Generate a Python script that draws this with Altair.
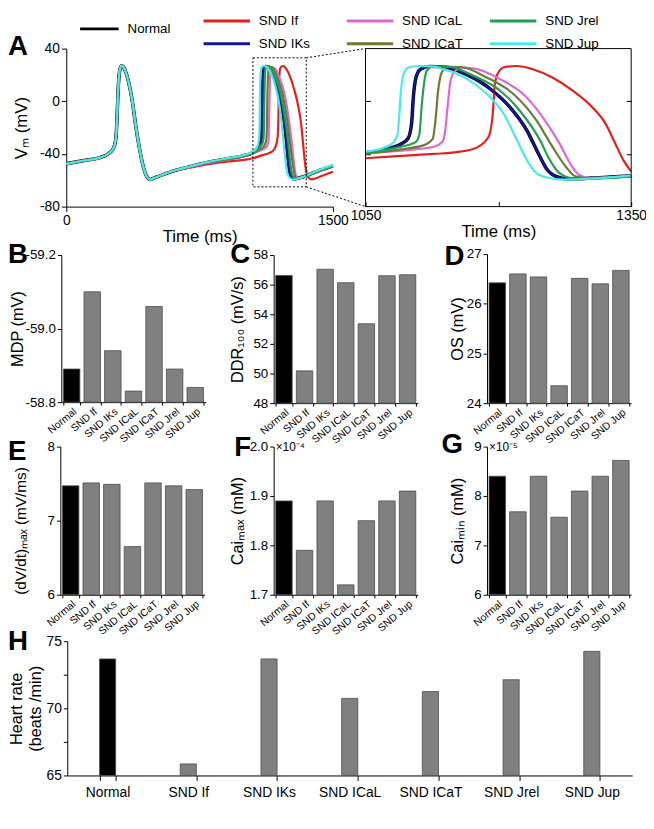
import altair as alt
import pandas as pd

FONT = "Liberation Sans"

# ---------------- Panel A: membrane potential traces ----------------
# first beat (0-600 ms): all traces overlap
beat1_t = [0, 100, 185, 240, 265, 278, 285, 290, 296, 303, 311, 322, 335, 350, 361, 375,
           389, 403, 417, 430, 444, 458, 472, 490, 520, 600]
beat1_v = [-47.5, -45, -43, -39.5, -35.8, -29.5, -14.5, 3, 18, 25, 27, 26, 22, 15, 8, -3,
           -17, -29, -39.5, -48, -54.5, -58, -59.5, -58.5, -57, -53]

# second beat (700-1500 ms), one list per trace
normal_t = [700, 800, 900, 1000, 1050, 1072, 1090, 1098, 1102, 1104, 1107, 1112, 1122, 1139,
            1165, 1191, 1213, 1232, 1245, 1254, 1265, 1280, 1314, 1350, 1425, 1500]
normal_v = [-49.5, -46.3, -43.8, -41.3, -39, -36.5, -32.5, -28.3, -17, 3, 18, 24.3, 26.5, 26,
            20, 9.3, -4.5, -22, -39.5, -50.8, -57, -59, -58, -56.5, -52.5, -49]
if_t = [700, 800, 900, 1000, 1050, 1090, 1127, 1157, 1176, 1189, 1194, 1196, 1200, 1207, 1221,
        1239, 1261, 1284, 1306, 1321, 1332, 1341, 1350, 1365, 1380, 1440, 1500]
if_v = [-50.3, -47.8, -45.8, -44.5, -43.3, -41.5, -40, -38.3, -35, -27, -7, 13, 21.8, 26, 26.8,
        24.3, 18, 8, -4.5, -17, -32, -44.5, -53.3, -58.3, -59.3, -56.5, -53.5]
iks_t = normal_t
iks_v = normal_v
ical_t = [700, 800, 900, 1000, 1050, 1090, 1127, 1137, 1140, 1143, 1146, 1151, 1159, 1172, 1202,
          1228, 1250, 1269, 1282, 1291, 1302, 1350, 1425, 1500]
ical_v = [-49.8, -46.8, -44.3, -41.8, -39.5, -37.5, -34.5, -30.8, -22, -2, 15.5, 23, 25.5, 25,
          16.8, 5.5, -12, -32, -48.3, -55.8, -58.3, -57, -52.8, -49.5]
icat_t = [700, 800, 900, 1000, 1050, 1090, 1116, 1126, 1129, 1132, 1136, 1142, 1157, 1187, 1217,
          1243, 1261, 1276, 1287, 1299, 1350, 1425, 1500]
icat_v = [-49.5, -46.5, -44, -41.6, -39.5, -36.5, -33.3, -28.3, -14.5, 8, 21.8, 26, 26, 18, 5.5,
          -14.5, -34.5, -49.5, -57, -58.3, -57, -52.8, -49.3]
jrel_t = [700, 800, 900, 1000, 1050, 1090, 1107, 1111, 1113, 1116, 1119, 1127, 1142, 1172, 1202,
          1224, 1247, 1258, 1269, 1284, 1314, 1350, 1425, 1500]
jrel_v = [-49.5, -46.3, -43.8, -41.3, -39, -34.5, -30.8, -24.5, -7, 13, 23, 26.5, 26.5, 19.3, 8,
          -7, -29.5, -44.5, -54.5, -58.3, -58.5, -57, -52.5, -49]
jup_t = [700, 800, 900, 1000, 1050, 1072, 1081, 1086, 1088, 1090, 1093, 1098, 1109, 1124, 1142,
         1165, 1187, 1206, 1221, 1232, 1243, 1258, 1276, 1314, 1350, 1425, 1500]
jup_v = [-49.3, -46, -43.4, -40.8, -38.3, -35, -31.5, -25.8, -12, 8, 20.5, 25.5, 26.8, 26.5, 23.5,
         16.8, 5.5, -9.5, -29.5, -44.5, -54.5, -58.3, -59.5, -58.3, -56.3, -52, -48.3]

trace_names = ["Normal", "SND If", "SND IKs", "SND ICaL", "SND ICaT", "SND Jrel", "SND Jup"]
trace_t = [normal_t, if_t, iks_t, ical_t, icat_t, jrel_t, jup_t]
trace_v = [normal_v, if_v, iks_v, ical_v, icat_v, jrel_v, jup_v]
trace_colors = ["#000000", "#e3201c", "#1515a0", "#e066d8", "#6c7a34", "#22a04e", "#4ae8ec"]

# zoom window and dashed box around it
zoom_t = [1050, 1350]
box_v = [-65, 33]

# ---------------- Bar panels ----------------
categories = ["Normal", "SND If", "SND IKs", "SND ICaL", "SND ICaT", "SND Jrel", "SND Jup"]
mdp = [-58.89, -59.10, -58.94, -58.83, -59.06, -58.89, -58.84]
ddr100 = [56.62, 50.18, 57.04, 56.13, 53.36, 56.60, 56.67]
os_vals = [26.42, 26.60, 26.54, 24.35, 26.51, 26.40, 26.67]
dvdt = [7.47, 7.51, 7.49, 6.65, 7.51, 7.47, 7.42]
caimax = [1.89, 1.79, 1.89, 1.72, 1.85, 1.89, 1.91]
caimin = [8.4, 7.68, 8.4, 7.57, 8.1, 8.4, 8.72]
heart_rate = [73.68, 65.86, 73.68, 70.74, 71.25, 72.13, 74.24]

# ---------------- layout (chart pixels; one shared view) ----------------
W, HV = 646, 813
P_AL = (59, 329, 36, 196)      # left, right, top, bottom
P_AR = (362, 631, 36, 196)
P_B = (54, 200, 245, 394)
P_C = (269, 415, 245, 395)
P_D = (485, 631, 244, 395)
P_E = (53, 199, 439, 589)
P_F = (269, 415, 439, 589)
P_G = (485, 631, 439, 589)
P_H = (60, 632, 636, 772)
BAR_GRAY = "#808080"

AX = dict(labelFont=FONT, titleFont=FONT, labelColor="black", titleColor="black",
          domainColor="black", tickColor="black", grid=False, titleFontWeight="normal",
          labelOverlap=False, labelFlush=False, domainWidth=1, tickWidth=1)


def axis(**kw):
    d = dict(AX)
    d.update(kw)
    return alt.Axis(**d)


NEG_INT = "datum.value < 0 ? '-' + format(-datum.value, 'd') : format(datum.value, 'd')"
NEG_1F = "datum.value < 0 ? '-' + format(-datum.value, '.1f') : format(datum.value, '.1f')"

rows = []
for name, ts, vs in zip(trace_names, trace_t, trace_v):
    for t, v in zip(beat1_t + ts, beat1_v + vs):
        rows.append({"series": name, "t": t, "v": v})
df_lines = pd.DataFrame(rows)
df_normal = df_lines[df_lines.series == "Normal"]
df_snd = df_lines[df_lines.series != "Normal"]
in_zoom = (df_lines.t >= zoom_t[0]) & (df_lines.t <= zoom_t[1])
df_normal_z = df_lines[in_zoom & (df_lines.series == "Normal")]
df_snd_z = df_lines[in_zoom & (df_lines.series != "Normal")]


def cscale():
    return alt.Scale(domain=trace_names, range=trace_colors)


def letter_text(lab, x_enc, y_enc, dx, dy):
    return alt.Chart(pd.DataFrame({"lab": [lab]})).mark_text(
        font=FONT, fontSize=28, fontWeight="bold", align="left", baseline="alphabetic",
        dx=dx, dy=dy, color="black").encode(x=x_enc, y=y_enc, text="lab:N")


units = []

# ---------------- legend (drawn with its own scales) ----------------
snd_names = trace_names[1:]
leg_df = pd.DataFrame({"series": snd_names,
                       "col": [i // 2 for i in range(len(snd_names))],
                       "row": [i % 2 for i in range(len(snd_names))]})
leg_x = alt.Scale(domain=[0, 1], range=[198, 343])
leg_y = alt.Scale(domain=[0, 1], range=[8, 31])
SYM = 47
units.append(alt.Chart(leg_df).mark_point(shape="stroke", size=SYM * SYM, strokeWidth=3, filled=False,
                                          opacity=1, xOffset=SYM / 2).encode(
    x=alt.X("col:Q", scale=leg_x, axis=None), y=alt.Y("row:Q", scale=leg_y, axis=None),
    color=alt.Color("series:N", scale=cscale(), legend=None)))
units.append(alt.Chart(leg_df).mark_text(font=FONT, fontSize=13.5, align="left", baseline="middle",
                                         dx=SYM + 9, color="black").encode(
    x=alt.X("col:Q", scale=leg_x, axis=None), y=alt.Y("row:Q", scale=leg_y, axis=None), text="series:N"))
norm_df = pd.DataFrame({"series": ["Normal"]})
units.append(alt.Chart(norm_df).mark_point(shape="stroke", size=39 * 39, strokeWidth=3, filled=False,
                                           opacity=1, xOffset=-105.5).encode(
    x=alt.X(datum=0, type="quantitative", scale=leg_x, axis=None),
    y=alt.Y(datum=0.35, type="quantitative", scale=leg_y, axis=None),
    color=alt.Color("series:N", scale=cscale(), legend=None)))
units.append(alt.Chart(norm_df).mark_text(font=FONT, fontSize=13.5, align="left", baseline="middle",
                                          dx=-77, color="black").encode(
    x=alt.X(datum=0, type="quantitative", scale=leg_x, axis=None),
    y=alt.Y(datum=0.35, type="quantitative", scale=leg_y, axis=None), text="series:N"))

# ---------------- A left ----------------
x0, x1, y0, y1 = P_AL
xs = alt.Scale(domain=[0, 1500], range=[x0, x1], nice=False, zero=False)
ys = alt.Scale(domain=[-80, 40], range=[y1, y0], nice=False, zero=False)
ax_x = axis(orient="bottom", offset=y1 - HV, values=[0, 1500], title="Time (ms)", labelFontSize=14,
            titleFontSize=17, tickSize=5, titlePadding=1, labelPadding=2, format="d")
ax_y = axis(orient="left", offset=-x0, values=[40, 0, -40, -80], title="Vₘ (mV)", labelFontSize=14,
            titleFontSize=17, tickSize=5, titlePadding=9, labelExpr=NEG_INT)
units.append(alt.Chart(df_normal).mark_line(strokeWidth=3.5, interpolate="monotone").encode(
    x=alt.X("t:Q", scale=xs, axis=ax_x), y=alt.Y("v:Q", scale=ys, axis=ax_y),
    color=alt.Color("series:N", scale=cscale(), legend=None)))
units.append(alt.Chart(df_snd).mark_line(strokeWidth=2.2, interpolate="monotone").encode(
    x=alt.X("t:Q", scale=xs, axis=None), y=alt.Y("v:Q", scale=ys, axis=None),
    color=alt.Color("series:N", scale=cscale(), legend=None)))
box_df = pd.DataFrame({"t1": [zoom_t[0]], "t2": [zoom_t[1]], "v1": [box_v[0]], "v2": [box_v[1]]})
units.append(alt.Chart(box_df).mark_rect(fill=None, stroke="black", strokeWidth=1, strokeDash=[2, 2]).encode(
    x=alt.X("t1:Q", scale=xs, axis=None), x2="t2", y=alt.Y("v1:Q", scale=ys, axis=None), y2="v2"))
t_edge = 1500 + (P_AR[0] - x1) * 1500.0 / (x1 - x0)
conn_df = pd.DataFrame({"t1": [zoom_t[1], zoom_t[1]], "v1": [box_v[1], box_v[0]],
                        "t2": [t_edge, t_edge], "v2": [40, -80]})
units.append(alt.Chart(conn_df).mark_rule(stroke="black", strokeWidth=1, strokeDash=[2, 2]).encode(
    x=alt.X("t1:Q", scale=xs, axis=None), x2="t2", y=alt.Y("v1:Q", scale=ys, axis=None), y2="v2"))
units.append(letter_text("A", alt.X(datum=0, type="quantitative", scale=xs, axis=None),
                         alt.Y(datum=40, type="quantitative", scale=ys, axis=None), 0 - x0, 42 - y0))

# ---------------- A right (zoom) ----------------
x0, x1, y0, y1 = P_AR
xz = alt.Scale(domain=zoom_t, range=[x0, x1], nice=False, zero=False)
yz = alt.Scale(domain=[-80, 40], range=[y1, y0], nice=False, zero=False)
az_x = axis(orient="bottom", offset=y1 - 5 - HV, values=[1050, 1200, 1350], title="Time (ms)",
            labelFontSize=14, titleFontSize=17, tickSize=5, titlePadding=1, labelPadding=2,
            domain=False, labelExpr="datum.value == 1200 ? '' : format(datum.value, 'd')")
az_y = axis(orient="left", offset=-(x0 + 5), values=[0, -40], labels=False, title=None, tickSize=5,
            domain=False)
az_y2 = axis(orient="right", offset=(x1 - 5) - W, values=[0, -40], labels=False, title=None,
             tickSize=5, domain=False)
units.append(alt.Chart(df_normal_z).mark_line(strokeWidth=3.5, interpolate="monotone").encode(
    x=alt.X("t:Q", scale=xz, axis=az_x), y=alt.Y("v:Q", scale=yz, axis=az_y),
    color=alt.Color("series:N", scale=cscale(), legend=None)))
units.append(alt.Chart(df_snd_z).mark_line(strokeWidth=2.2, interpolate="monotone").encode(
    x=alt.X("t:Q", scale=xz, axis=None), y=alt.Y("v:Q", scale=yz, axis=None),
    color=alt.Color("series:N", scale=cscale(), legend=None)))
frame_df = pd.DataFrame({"t1": [zoom_t[0]], "t2": [zoom_t[1]], "v1": [-80], "v2": [40]})
units.append(alt.Chart(frame_df).mark_rect(fill=None, stroke="black", strokeWidth=1).encode(
    x=alt.X("t1:Q", scale=xz, axis=None), x2="t2", y=alt.Y("v1:Q", scale=yz, axis=az_y2), y2="v2"))


# ---------------- bar panels ----------------
def bar_panel(values, box, lab, ytitle, domain, ticks, tpad, letter_xy, label_expr,
              note=None, big=False, title_size=16.5, title_shift=0):
    bx0, bx1, by0, by1 = box
    n = len(categories)
    pin, pout = (0.8, 0.4) if big else (0.2, 0.1)
    step = (bx1 - bx0) / (n - pin + 2 * pout)
    c0 = bx0 + pout * step + (1 - pin) * step / 2
    sx = alt.Scale(domain=categories, range=[bx0, bx1], paddingInner=pin, paddingOuter=pout)
    sy = alt.Scale(domain=domain, range=[by1, by0], zero=False, nice=False)
    if big:
        xax = axis(orient="bottom", offset=by1 - HV, title=None, labelAngle=0, labelFontSize=14,
                   labelPadding=5, tickSize=5, tickBand="extent")
        yfs = 14
    else:
        xax = axis(orient="bottom", offset=by1 - HV, title=None, labelAngle=320, labelAlign="right",
                   labelBaseline="top", labelFontSize=10.5, labelPadding=1, tickSize=3,
                   tickBand="extent")
        yfs = 13.5
    ykw = dict(orient="left", offset=-bx0, values=ticks, title=ytitle, labelFontSize=yfs,
               titleFontSize=title_size, tickSize=4, titlePadding=tpad, labelExpr=label_expr)
    if title_shift:
        ykw["titleY"] = (by0 + by1) / 2 + title_shift
    yax = axis(**ykw)
    df = pd.DataFrame({"cat": categories, "val": values})
    out = [alt.Chart(df).mark_bar(stroke="#4d4d4d", strokeWidth=0.8).encode(
        x=alt.X("cat:N", sort=categories, scale=sx, axis=xax),
        y=alt.Y("val:Q", scale=sy, axis=yax),
        y2=alt.datum(domain[0]),
        color=alt.Color("cat:N", scale=alt.Scale(domain=categories, range=["#000000"] + [BAR_GRAY] * 6),
                        legend=None))]
    lx, ly = letter_xy
    xd = alt.X(datum=categories[0], type="nominal", scale=sx, axis=None)
    yd = alt.Y(datum=domain[1], type="quantitative", scale=sy, axis=None)
    out.append(letter_text(lab, xd, yd, lx - c0, ly - by0))
    if note:
        out.append(alt.Chart(pd.DataFrame({"lab": [note]})).mark_text(
            font=FONT, fontSize=12, align="left", baseline="middle", dx=(bx0 + 2) - c0, dy=0,
            color="black").encode(x=xd, y=yd, text="lab:N"))
    return out


units += bar_panel(mdp, P_B, "B", "MDP (mV)", [-58.8, -59.2], [-59.2, -59.0, -58.8], 0, (0, 253), NEG_1F)
units += bar_panel(ddr100, P_C, "C", "DDR₁₀₀ (mV/s)", [48, 58], [48, 50, 52, 54, 56, 58], 8, (225, 253), NEG_INT)
units += bar_panel(os_vals, P_D, "D", "OS (mV)", [24, 27], [24, 25, 26, 27], 1, (442, 255), NEG_INT)
units += bar_panel(dvdt, P_E, "E", "(dV/dt)ₘₐₓ (mV/ms)", [6, 8], [6, 7, 8], 19, (0, 453), NEG_INT,
                   title_size=15.5, title_shift=10)
units += bar_panel(caimax, P_F, "F", "Caiₘₐₓ (mM)", [1.7, 2.0], [1.7, 1.8, 1.9, 2.0], 4, (229, 449), NEG_1F,
                   note="×10⁻⁴")
units += bar_panel(caimin, P_G, "G", "Caiₘᵢₙ (mM)", [6, 9], [6, 7, 8, 9], 8, (439, 445), NEG_INT,
                   note="×10⁻⁵")
units += bar_panel(heart_rate, P_H, "H", ["Heart rate", "(beats /min)"], [65, 75], [65, 67.5, 70, 72.5, 75],
                   3, (0, 645), "datum.value % 5 == 0 ? format(datum.value, 'd') : ''", big=True)

chart = alt.layer(*units).resolve_scale(
    x="independent", y="independent", color="independent"
).resolve_axis(x="independent", y="independent").properties(
    width=W, height=HV, padding={"left": 0, "top": 0, "right": 0, "bottom": 0},
    autosize=alt.AutoSizeParams(type="none")
).configure(font=FONT, view=alt.ViewConfig(stroke=None))

chart.save("out.html", embed_options={"renderer": "svg", "actions": False})
